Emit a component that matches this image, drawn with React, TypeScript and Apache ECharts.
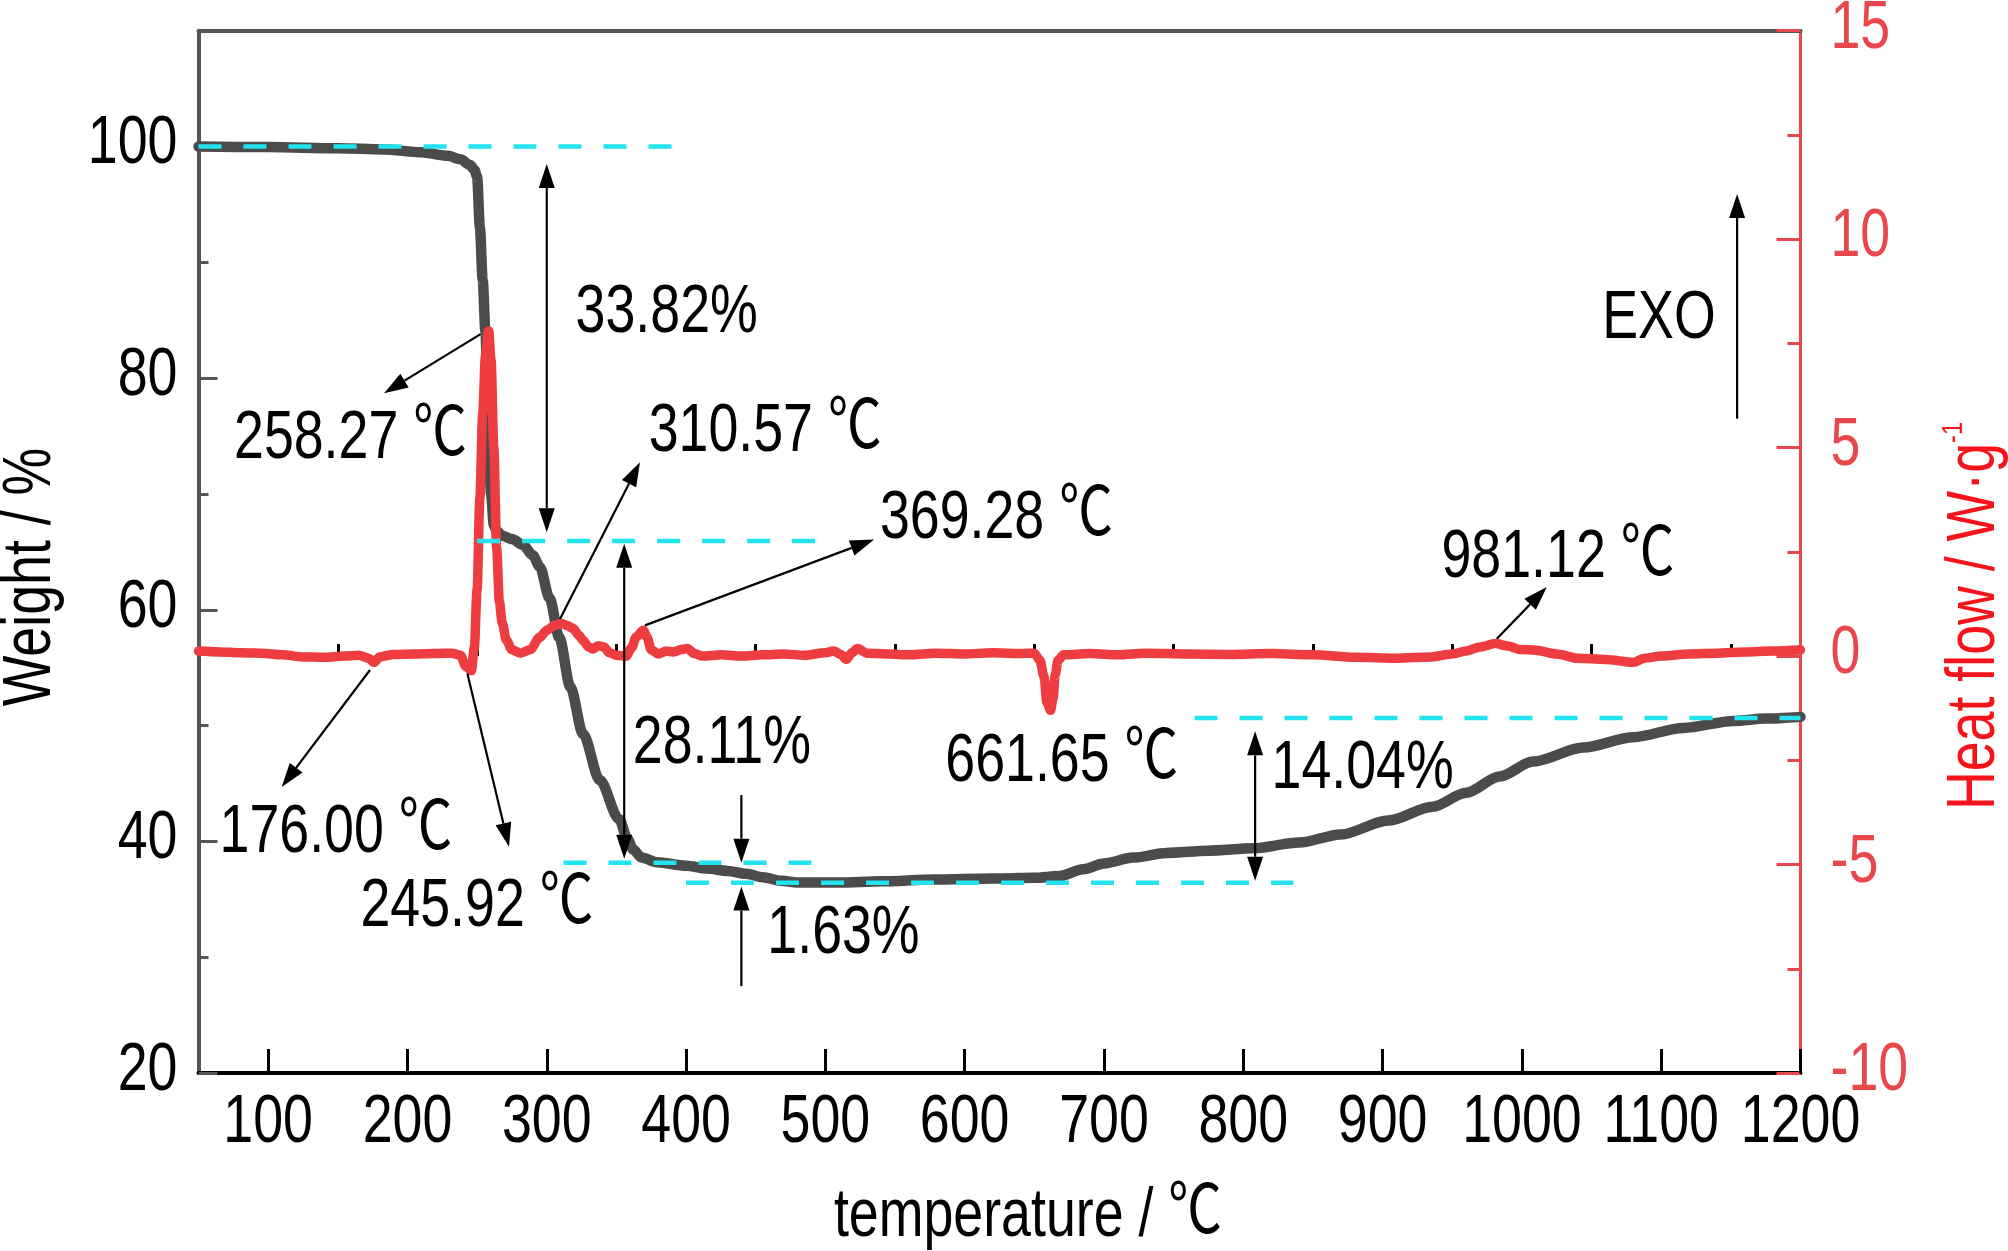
import React, { useEffect, useRef } from "react";
import * as echarts from "echarts";

// ---- TG (weight) curve ----
const tempTG = [50, 100, 150, 183, 210, 229, 238, 245, 248, 250, 252, 254, 256, 258, 260, 262, 264, 268, 275, 283, 290, 295, 302, 309, 317, 326, 338, 352, 358, 362, 368, 379, 400, 415, 430, 443, 455, 468, 480, 510, 540, 578, 620, 650, 668, 685, 700, 721, 745, 775, 807, 840, 870, 904, 936, 960, 984, 1008, 1044, 1080, 1116, 1152, 1175, 1200];
const weightTG = [100.0, 99.95, 99.85, 99.75, 99.5, 99.2, 98.9, 98.4, 98.0, 97.4, 93.0, 88.5, 84.0, 76.0, 70.0, 67.3, 66.8, 66.4, 66.1, 65.6, 64.7, 63.7, 61.0, 57.6, 53.3, 49.3, 45.3, 41.9, 40.2, 39.3, 38.6, 38.2, 37.9, 37.65, 37.45, 37.2, 36.9, 36.6, 36.45, 36.45, 36.55, 36.7, 36.8, 36.85, 37.0, 37.6, 38.1, 38.6, 39.0, 39.2, 39.4, 39.9, 40.6, 41.8, 43.0, 44.2, 45.6, 46.9, 48.1, 49.0, 49.8, 50.4, 50.6, 50.75];

// ---- DSC (heat flow) curve ----
const tempDSC = [50, 65, 80, 95, 110, 125, 140, 155, 165, 172, 176, 180, 190, 205, 220, 232, 238, 242, 245.9, 248, 250, 252, 254, 256, 258.3, 260, 262, 264, 266, 268, 271, 275, 281, 288, 295, 300, 306, 310.6, 315, 319, 323, 326, 330, 333, 337, 341, 345, 350, 357, 361, 364, 369.3, 372, 375, 380, 386, 391, 396, 401, 406, 412, 425, 440, 455, 470, 485, 500, 506, 511, 515, 519, 523, 530, 545, 560, 580, 600, 620, 640, 650, 654, 657, 659, 661.65, 663.5, 665, 667, 671, 690, 710, 730, 760, 790, 820, 850, 880, 910, 935, 950, 960, 970, 981.1, 990, 998, 1010, 1025, 1040, 1060, 1080, 1088, 1100, 1120, 1140, 1160, 1180, 1200];
const heatDSC = [0.12, 0.1, 0.08, 0.07, 0.03, -0.02, -0.03, 0.0, 0.02, -0.05, -0.15, -0.02, 0.04, 0.05, 0.06, 0.07, 0.02, -0.25, -0.35, 0.2, 1.6, 3.8, 5.8, 7.2, 7.8, 7.1, 5.0, 2.6, 1.3, 0.8, 0.38, 0.15, 0.07, 0.15, 0.45, 0.62, 0.74, 0.78, 0.73, 0.66, 0.5, 0.38, 0.22, 0.17, 0.25, 0.22, 0.08, 0.02, 0.0, 0.2, 0.45, 0.62, 0.45, 0.15, 0.05, 0.12, 0.1, 0.15, 0.18, 0.06, 0.0, 0.03, 0.0, 0.03, 0.05, 0.02, 0.08, 0.12, 0.04, -0.08, 0.08, 0.18, 0.07, 0.05, 0.03, 0.07, 0.05, 0.08, 0.06, 0.07, -0.1, -0.5, -1.1, -1.3, -1.0, -0.45, -0.1, 0.03, 0.06, 0.03, 0.07, 0.05, 0.04, 0.06, 0.03, -0.03, -0.05, -0.02, 0.05, 0.12, 0.22, 0.3, 0.24, 0.16, 0.14, 0.05, -0.05, -0.08, -0.15, -0.05, 0.0, 0.05, 0.07, 0.1, 0.12, 0.15];

// ---- ticks / tick labels ----
const xMajorTicks = [100, 200, 300, 400, 500, 600, 700, 800, 900, 1000, 1100, 1200];
const xMinorTicks = [150, 250, 350, 450, 550, 650, 750, 850, 950, 1050, 1150];
const wMajorTicks = [20, 40, 60, 80, 100];
const wMinorTicks = [30, 50, 70, 90];
const hMajorTicks = [-10, -5, 0, 5, 10, 15];
const hMinorTicks = [-7.5, -2.5, 2.5, 7.5, 12.5];

// ---- cyan dashed reference levels (weight %) ----
const dashLevels = [100, 65.93, 38.15, 36.42, 50.65];
const dashFrom = [50, 250, 312, 400, 765];
const dashTo = [400, 495, 491, 836, 1200];

// ---- annotation texts (temperature, weight %) ----
const noteTexts = ["258.27 ℃", "33.82%", "310.57 ℃", "369.28 ℃", "176.00 ℃", "245.92 ℃", "28.11%", "1.63%", "661.65 ℃", "14.04%", "981.12 ℃", "EXO"];
const noteT = [159.1, 386.1, 456.8, 622.8, 148.7, 249.9, 425.7, 513, 669.7, 885.7, 1025.9, 1098.4];
const noteW = [75.1, 86.0, 75.7, 68.2, 41.1, 34.7, 48.8, 32.4, 47.2, 46.6, 64.8, 85.5];

// ---- arrows (from -> to, in temperature / weight %) ----
const arrowFromT = [252.5, 300, 309.5, 370.5, 173.1, 243, 355.6, 439.7, 439.7, 808.5, 982, 1154.5];
const arrowFromW = [83.8, 98.5, 59.2, 58.65, 54.8, 54.5, 65.7, 44.0, 27.5, 49.5, 57.5, 76.5];
const arrowToT = [183.2, 300, 366.9, 535, 109.7, 272.9, 355.6, 439.7, 439.7, 808.5, 1017.9, 1154.5];
const arrowToW = [78.7, 66.7, 72.74, 66.07, 44.7, 39.53, 38.5, 38.16, 36.1, 36.6, 61.96, 95.9];
const arrowBoth = [false, true, false, false, false, false, true, false, false, true, false, false];

const FONT = "'Liberation Sans', Arial, 'Noto Sans', sans-serif";
const CJK = "'Noto Sans CJK SC', 'Noto Sans CJK JP', 'DejaVu Sans', sans-serif";
const FS = 68;
const SX = 0.79; // narrow the face like Arial Narrow
const DEG_RAISE = 9;
const RED_AXIS = "#e8484b";
const RED_LINE = "#ee3d40";
const RED_TITLE = "#f5141c";
const GRAY = "#555555";

export default function App() {
  const ref = useRef<HTMLDivElement>(null);
  useEffect(() => {
    if (!ref.current) return;
    const chart = echarts.init(ref.current, undefined, { renderer: "svg" });

    const tgData = tempTG.map((t, i) => [t, weightTG[i]]);
    const dscData = tempDSC.map((t, i) => [t, heatDSC[i]]);
    const dashSeries = dashLevels.map((lv, i) => ({
      type: "line",
      xAxisIndex: 0,
      yAxisIndex: 0,
      data: [[dashFrom[i], lv], [dashTo[i], lv]],
      showSymbol: false,
      silent: true,
      z: 5,
      lineStyle: { color: "#22e3ef", width: 4.5, type: [23, 22] },
    }));

    const noLabel = { show: false };

    chart.setOption({
      animation: false,
      backgroundColor: "#fff",
      grid: { left: 198.5, right: 207.5, top: 30.7, bottom: 178, containLabel: false, outerBoundsMode: "none" },
      xAxis: [
        {
          type: "value", min: 50, max: 1200, position: "bottom",
          axisLine: { show: true, onZero: false, lineStyle: { color: "#000", width: 4 } },
          axisTick: { show: true, inside: true, length: 24, customValues: xMajorTicks, lineStyle: { color: "#000", width: 3 } },
          axisLabel: noLabel,
          splitLine: { show: false },
        },
        {
          type: "value", min: 50, max: 1200, position: "bottom",
          axisLine: { show: false },
          axisTick: { show: true, inside: true, length: 12, customValues: xMinorTicks, lineStyle: { color: "#000", width: 3 } },
          axisLabel: noLabel,
          splitLine: { show: false },
        },
        {
          type: "value", min: 50, max: 1200, position: "top",
          axisLine: { show: true, onZero: false, lineStyle: { color: GRAY, width: 4 } },
          axisTick: { show: false },
          axisLabel: noLabel,
          splitLine: { show: false },
        },
      ],
      yAxis: [
        {
          type: "value", min: 20, max: 110, position: "left",
          axisLine: { show: true, onZero: false, lineStyle: { color: GRAY, width: 4 } },
          axisTick: { show: true, inside: true, length: 19, customValues: wMajorTicks, lineStyle: { color: GRAY, width: 3 } },
          axisLabel: noLabel,
          splitLine: { show: false },
        },
        {
          type: "value", min: 20, max: 110, position: "left",
          axisLine: { show: false },
          axisTick: { show: true, inside: true, length: 10, customValues: wMinorTicks, lineStyle: { color: GRAY, width: 3 } },
          axisLabel: noLabel,
          splitLine: { show: false },
        },
        {
          type: "value", min: -10, max: 15, position: "right",
          axisLine: { show: true, onZero: false, lineStyle: { color: RED_AXIS, width: 3 } },
          axisTick: { show: true, inside: true, length: 24, customValues: hMajorTicks, lineStyle: { color: RED_AXIS, width: 3 } },
          axisLabel: noLabel,
          splitLine: { show: false },
        },
        {
          type: "value", min: -10, max: 15, position: "right",
          axisLine: { show: false },
          axisTick: { show: true, inside: true, length: 13, customValues: hMinorTicks, lineStyle: { color: RED_AXIS, width: 3 } },
          axisLabel: noLabel,
          splitLine: { show: false },
        },
      ],
      series: [
        {
          type: "line", xAxisIndex: 0, yAxisIndex: 0, data: tgData, showSymbol: false, z: 3,
          smooth: 0.3, smoothMonotone: "x",
          lineStyle: { color: "#4b4b4b", width: 10.5, cap: "round", join: "round" },
        },
        {
          type: "line", xAxisIndex: 0, yAxisIndex: 2, data: dscData, showSymbol: false, z: 4,
          smooth: 0.3, smoothMonotone: "x",
          lineStyle: { color: RED_LINE, width: 9.5, cap: "round", join: "round" },
        },
        ...dashSeries,
      ],
    });

    const px = (t: number, w: number) =>
      chart.convertToPixel({ xAxisIndex: 0, yAxisIndex: 0 }, [t, w]) as number[];
    const pxH = (t: number, h: number) =>
      chart.convertToPixel({ xAxisIndex: 0, yAxisIndex: 2 }, [t, h]) as number[];

    const ctx = document.createElement("canvas").getContext("2d") as CanvasRenderingContext2D;
    const measure = (s: string, family: string) => {
      ctx.font = `${FS}px ${family}`;
      return ctx.measureText(s).width * SX;
    };

    const graphics: any[] = [];
    const plain = (text: string, x: number, y: number, align: string, fill: string, rotation = 0) => {
      graphics.push({
        type: "text", z: 100, x, y, rotation, scaleX: SX,
        style: {
          text, fill, fontFamily: FONT, fontSize: FS,
          align, verticalAlign: "middle", textAlign: align, textVerticalAlign: "middle",
        },
      });
    };
    const txt = (text: string, x: number, y: number, align: string, fill = "#000", rotation = 0) => {
      if (text.indexOf("℃") < 0) {
        plain(text, x, y, align, fill, rotation);
        return;
      }
      const prefix = text.split("℃")[0];
      const wp = measure(prefix, FONT);
      const wc = measure("℃", CJK);
      const total = wp + wc;
      const left = align === "center" ? x - total / 2 : align === "right" ? x - total : x;
      plain(prefix, left, y, "left", fill);
      graphics.push({
        type: "text", z: 100, x: left + wp, y: y - DEG_RAISE, scaleX: SX,
        style: {
          text: "℃", fill, fontFamily: CJK, fontSize: FS,
          align: "left", verticalAlign: "middle", textAlign: "left", textVerticalAlign: "middle",
        },
      });
    };

    // tick labels, placed through the axes' own scales
    const axisPxLeft = px(50, 20);
    xMajorTicks.forEach((v) => {
      const p = px(v, 20);
      txt(String(v), p[0], p[1] + 46, "center");
    });
    wMajorTicks.forEach((v) => {
      const p = px(50, v);
      txt(String(v), axisPxLeft[0] - 21, p[1] - 6.5, "right");
    });
    hMajorTicks.forEach((v) => {
      const p = pxH(1200, v);
      txt(String(v), p[0] + 30, p[1] - 6, "left", RED_AXIS);
    });

    const HL = 24;
    const HW = 8;
    const head = (tip: number[], from: number[]) => {
      const dx = tip[0] - from[0];
      const dy = tip[1] - from[1];
      const len = Math.hypot(dx, dy) || 1;
      const ux = dx / len;
      const uy = dy / len;
      const bx = tip[0] - ux * HL;
      const by = tip[1] - uy * HL;
      graphics.push({
        type: "polygon",
        z: 100,
        shape: { points: [[tip[0], tip[1]], [bx - uy * HW, by + ux * HW], [bx + uy * HW, by - ux * HW]] },
        style: { fill: "#000" },
      });
      return [bx, by];
    };

    arrowFromT.forEach((_, i) => {
      const a = px(arrowFromT[i], arrowFromW[i]);
      const b = px(arrowToT[i], arrowToW[i]);
      const endBase = head(b, a);
      const startBase = arrowBoth[i] ? head(a, b) : a;
      graphics.push({
        type: "line",
        z: 100,
        shape: { x1: startBase[0], y1: startBase[1], x2: endBase[0], y2: endBase[1] },
        style: { stroke: "#000", lineWidth: 2.2 },
      });
    });

    noteTexts.forEach((t, i) => {
      const p = px(noteT[i], noteW[i]);
      txt(t, p[0], p[1], "center");
    });

    // axis titles
    txt("Weight / %", 27, 577, "center", "#000", Math.PI / 2);
    txt("temperature / ℃", 1028, 1213, "center");
    graphics.push({
      type: "text", z: 100, x: 1971, y: 616, rotation: Math.PI / 2, scaleX: SX,
      style: {
        text: "{a|Heat flow / W·g}{b|-1}",
        align: "center", verticalAlign: "middle", textAlign: "center", textVerticalAlign: "middle",
        rich: {
          a: { fontFamily: FONT, fontSize: FS, fill: RED_TITLE, color: RED_TITLE },
          b: { fontFamily: FONT, fontSize: 30, fill: RED_TITLE, color: RED_TITLE, verticalAlign: "top" },
        },
      },
    });

    chart.setOption({ graphic: { elements: graphics } });

    return () => chart.dispose();
  }, []);

  return (
    <div
      ref={ref}
      style={{ position: "absolute", left: 0, top: 0, width: 2008, height: 1251, background: "#fff" }}
    />
  );
}
